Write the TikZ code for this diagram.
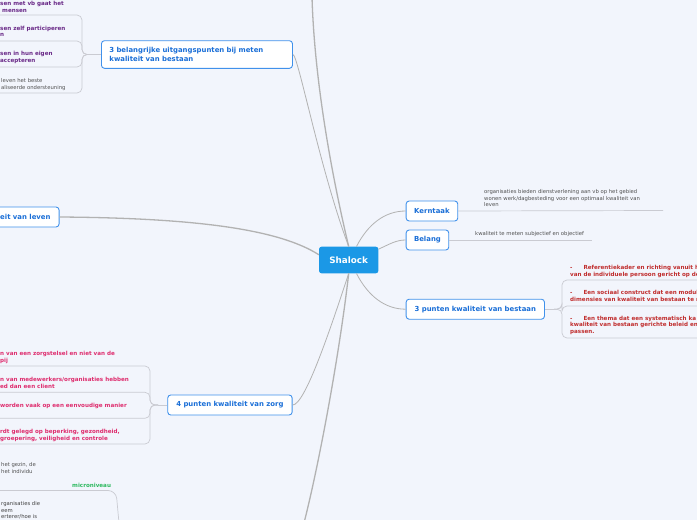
\documentclass[tikz,border=0pt]{standalone}
\usepackage{fontspec}
\setmainfont{DejaVu Sans}
\definecolor{achtergrond}{RGB}{242,245,252}
\definecolor{kernblauw}{RGB}{27,152,230}
\definecolor{randblauw}{RGB}{64,145,235}
\definecolor{tekstblauw}{RGB}{25,110,215}
\definecolor{lijngrijs}{RGB}{178,178,178}
\definecolor{takgrijs}{RGB}{202,203,210}
\definecolor{paars}{RGB}{105,40,135}
\definecolor{roze}{RGB}{222,45,110}
\definecolor{rood}{RGB}{192,45,45}
\definecolor{groen}{RGB}{45,185,95}
\definecolor{notagrijs}{RGB}{80,80,80}

\tikzset{
  kern/.style={fill=kernblauw, rounded corners=2.5pt, text=white,
    font=\fontsize{8.8}{10}\selectfont\bfseries,
    minimum width=59.3pt, minimum height=26.6pt, inner sep=0pt},
  thema/.style={draw=randblauw, fill=white, line width=0.9pt, rounded corners=3pt,
    text=tekstblauw, font=\fontsize{6.9}{8.7}\selectfont\bfseries,
    minimum height=20pt, inner sep=0pt},
  tak/.style={draw=lijngrijs, line width=0.8pt},
  dikketak/.style={draw=lijngrijs, line width=1.3pt},
  twijg/.style={draw=takgrijs, line width=0.7pt, rounded corners=5pt},
  punt/.style={inner sep=0pt, anchor=south west, align=left,
    font=\fontsize{5.6}{6.8}\selectfont\bfseries},
  nota/.style={inner sep=0pt, anchor=south west, align=left, text=notagrijs,
    font=\fontsize{5.3}{6.5}\selectfont},
}

\begin{document}
\begin{tikzpicture}[x=1pt, y=-1pt]
  \useasboundingbox (0,0) rectangle (697,520);
  \fill[achtergrond] (0,0) rectangle (697,520);
  \clip (0,0) rectangle (697,520);

  % centre and main topics
  \node[kern] (shalock) at (348.7,260) {Shalock};
  \node[thema, anchor=west, minimum width=191pt, minimum height=27.6pt,
    text width=175pt, inner xsep=8pt, align=left] (uitgang) at (101,54.5)
    {3 belangrijke uitgangspunten bij meten\\kwaliteit van bestaan};
  \node[thema, anchor=east, inner xsep=8.5pt] (leven) at (59.5,217) {Kwaliteit van leven};
  \node[thema, anchor=west, minimum width=51.6pt] (kerntaak) at (405.7,211) {Kerntaak};
  \node[thema, anchor=west, minimum width=42.6pt] (belang) at (405.7,240) {Belang};
  \node[thema, anchor=west, minimum width=138.3pt] (bestaan) at (405.7,309.2) {3 punten kwaliteit van bestaan};
  \node[thema, anchor=west, minimum width=124.4pt] (zorg) at (167.3,405) {4 punten kwaliteit van zorg};

  \coordinate (boven) at (312,-3);
  \coordinate (onder) at (304,523);

  % main links
  \draw[dikketak] (shalock.north) .. controls (340,210) and (315,100) .. (boven);
  \draw[tak] (uitgang.east) .. controls (298,54.5) and (320,170) .. (shalock.north);
  \draw[dikketak] (leven.east) .. controls (200,218) and (280,230) .. (shalock.170);
  \draw[tak] (zorg.east) .. controls (305,405) and (330,330) .. (shalock.south);
  \draw[dikketak] (shalock.south) .. controls (340,350) and (320,460) .. (onder);
  \draw[tak] (shalock.60) .. controls (368,224) and (385,211) .. (kerntaak.west);
  \draw[tak] (shalock.20) .. controls (390,244) and (396,240) .. (belang.west);
  \draw[tak] (shalock.-60) .. controls (368,296) and (385,309.2) .. (bestaan.west);

  % uitgangspunten
  \coordinate (uvork) at (90,54.5);
  \draw[twijg] (uitgang.west) -- (uvork);
  \draw[twijg] (uvork) -- (82,54.5) -- (82,15) -- (0,15);
  \draw[twijg] (uvork) -- (82,54.5) -- (82,41) -- (0,41);
  \draw[twijg] (uvork) -- (82,54.5) -- (82,67) -- (0,67);
  \draw[twijg] (uvork) -- (82,54.5) -- (82,93) -- (0,93);
  \node[punt, text=paars] (u1) at (0,12.5) {sen met vb gaat het\\\hspace*{2pt}mensen};
  \node[punt, text=paars] (u2) at (0,37) {sen zelf participeren\\n};
  \node[punt, text=paars] (u3) at (0,64) {sen in hun eigen\\accepteren};
  \node[nota] (u4) at (1,90.5) {leven het beste\\aliseerde ondersteuning};

  % kwaliteit van zorg
  \coordinate (zvork) at (158,405);
  \draw[twijg] (zorg.west) -- (zvork);
  \draw[twijg] (zvork) -- (150,405) -- (150,366) -- (0,366);
  \draw[twijg] (zvork) -- (150,405) -- (150,392.3) -- (0,392.3);
  \draw[twijg] (zvork) -- (150,405) -- (150,418.3) -- (0,418.3);
  \draw[twijg] (zvork) -- (150,405) -- (150,444) -- (0,444);
  \node[punt, text=roze] (z1) at (0,364) {n van een zorgstelsel en niet van de\\pij};
  \node[punt, text=roze] (z2) at (0,389) {n van medewerkers/organisaties hebben\\ed dan een client};
  \node[punt, text=roze] (z3) at (0,409) {worden vaak op een eenvoudige manier};
  \node[punt, text=roze] (z4) at (0,442) {rdt gelegd op beperking, gezondheid,\\groepering, veiligheid en controle};

  % kerntaak en belang
  \draw[twijg] (kerntaak.east) -- (663,210.5);
  \node[nota] (kernnota) at (484,207) {organisaties bieden dienstverlening aan vb op het gebied\\wonen werk/dagbesteding voor een optimaal kwaliteit van\\leven};
  \draw[twijg] (belang.east) -- (592,240);
  \node[nota] (belangnota) at (475,237) {kwaliteit te meten subjectief en objectief};

  % kwaliteit van bestaan
  \coordinate (bvork) at (554,309.2);
  \draw[twijg] (bestaan.east) -- (bvork);
  \draw[twijg] (bvork) -- (562,309.2) -- (562,280) -- (700,280);
  \draw[twijg] (bvork) -- (562,309.2) -- (562,306) -- (700,306);
  \draw[twijg] (bvork) -- (562,309.2) -- (562,338) -- (700,338);
  \node[punt, text=rood] (b1) at (570,277.5) {-\hspace*{11pt}Referentiekader en richting vanuit h\\van de individuele persoon gericht op de};
  \node[punt, text=rood] (b2) at (570,302) {-\hspace*{11pt}Een sociaal construct dat een modul\\dimensies van kwaliteit van bestaan te m};
  \node[punt, text=rood] (b3) at (570,335) {-\hspace*{11pt}Een thema dat een systematisch ka\\kwaliteit van bestaan gerichte beleid en p\\passen.};

  % onderaan
  \node[nota] (gezin) at (1,473.5) {het gezin, de\\het individu};
  \draw[twijg, rounded corners=8pt] (119,523) -- (116,490.5) -- (0,490.5);
  \node[punt, text=groen] (micro) at (72,487.5) {microniveau};
  \node[nota, anchor=north west, text=black!75] (organisaties) at (1,501.5) {rganisaties die\\eem\\erterer/hoe is};
\end{tikzpicture}
\end{document}
